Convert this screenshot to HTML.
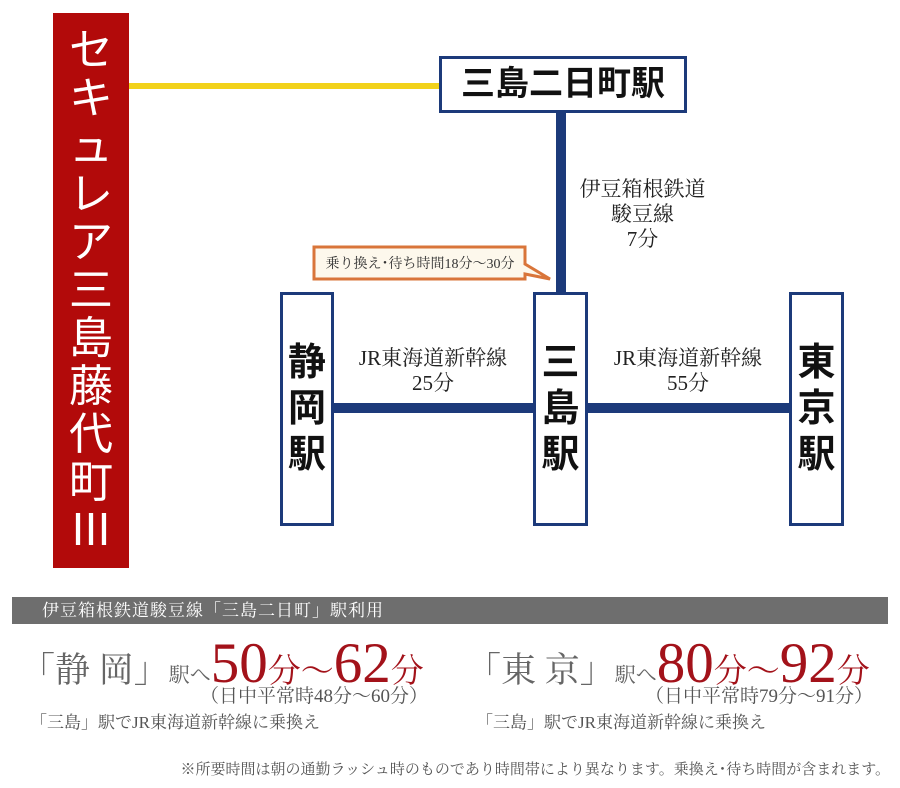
<!DOCTYPE html>
<html><head><meta charset="utf-8"><style>
body{margin:0;width:900px;height:788px;background:#fff;position:relative;overflow:hidden;font-family:"Liberation Serif","Noto Serif CJK SC",serif}
.a{position:absolute}
.sans{font-family:"Liberation Sans","Noto Sans CJK JP",sans-serif}
.box{position:absolute;border:3px solid #1c3a7a;background:#fff;box-sizing:border-box;color:#111}
.vt{display:flex;flex-direction:column;align-items:center;justify-content:center;font-size:38px;line-height:46px;font-weight:bold}
.lbl{position:absolute;text-align:center;font-size:21px;line-height:25px;color:#222}
.rc span{display:block;height:48px;line-height:48px;text-align:center}
</style></head><body>
<div class="a sans rc" style="left:53px;top:13px;width:76px;height:555px;background:#b20a0a;color:#fff;font-size:44px;padding-top:14px;box-sizing:border-box">
<span>セ</span><span>キ</span><span>ュ</span><span>レ</span><span>ア</span><span>三</span><span>島</span><span>藤</span><span>代</span><span>町</span><span>Ⅲ</span></div>
<div class="a" style="left:129px;top:83px;width:312px;height:6px;background:#f2d21a"></div>
<div class="box sans" style="left:439px;top:56px;width:248px;height:57px;font-size:34px;font-weight:bold;text-align:center;line-height:51px">三島二日町駅</div>
<div class="a" style="left:556px;top:113px;width:10px;height:180px;background:#1c3a7a"></div>
<div class="lbl" style="left:570px;top:177px;width:145px">伊豆箱根鉄道<br>駿豆線<br>7分</div>
<svg class="a" style="left:310px;top:244px" width="250" height="40"><path d="M4 3 H215 V20 L240 35 L215 30 V35 H4 Z" fill="#fdf8ec" stroke="#d9753a" stroke-width="3"/>
<text x="110" y="24" text-anchor="middle" font-size="14" font-family="Liberation Serif,Noto Serif CJK SC,serif" fill="#333">乗り換え･待ち時間18分〜30分</text></svg>
<div class="a" style="left:333px;top:403px;width:200px;height:10px;background:#1c3a7a"></div>
<div class="a" style="left:587px;top:403px;width:203px;height:10px;background:#1c3a7a"></div>
<div class="box sans vt" style="left:280px;top:292px;width:54px;height:234px">静<br>岡<br>駅</div>
<div class="box sans vt" style="left:533px;top:292px;width:55px;height:234px">三<br>島<br>駅</div>
<div class="box sans vt" style="left:789px;top:292px;width:55px;height:234px">東<br>京<br>駅</div>
<div class="lbl" style="left:338px;top:346px;width:190px">JR東海道新幹線<br>25分</div>
<div class="lbl" style="left:593px;top:346px;width:190px">JR東海道新幹線<br>55分</div>
<div class="a" style="left:12px;top:597px;width:876px;height:27px;background:#6e6e6e;color:#fff;font-size:17px;letter-spacing:1px;line-height:27px;padding-left:30px;box-sizing:border-box">伊豆箱根鉄道駿豆線「三島二日町」駅利用</div>
<div class="a" style="left:20px;top:631px;color:#666;white-space:nowrap"><span style="font-size:35px">「静 岡」</span><span style="font-size:21px">駅へ</span><span style="font-size:57px;color:#a3121a">50</span><span style="font-size:33px;color:#a3121a">分〜</span><span style="font-size:57px;color:#a3121a">62</span><span style="font-size:33px;color:#a3121a">分</span></div>
<div class="a" style="left:200px;top:681px;font-size:19px;color:#555">（日中平常時48分〜60分）</div>
<div class="a" style="left:30px;top:708px;font-size:17px;color:#555">「三島」駅でJR東海道新幹線に乗換え</div>
<div class="a" style="left:466px;top:631px;color:#666;white-space:nowrap"><span style="font-size:35px">「東 京」</span><span style="font-size:21px">駅へ</span><span style="font-size:57px;color:#a3121a">80</span><span style="font-size:33px;color:#a3121a">分〜</span><span style="font-size:57px;color:#a3121a">92</span><span style="font-size:33px;color:#a3121a">分</span></div>
<div class="a" style="left:645px;top:681px;font-size:19px;color:#555">（日中平常時79分〜91分）</div>
<div class="a" style="left:476px;top:708px;font-size:17px;color:#555">「三島」駅でJR東海道新幹線に乗換え</div>
<div class="a" style="right:10px;top:758px;font-size:15px;color:#555;white-space:nowrap">※所要時間は朝の通勤ラッシュ時のものであり時間帯により異なります。乗換え･待ち時間が含まれます。</div>
</body></html>
